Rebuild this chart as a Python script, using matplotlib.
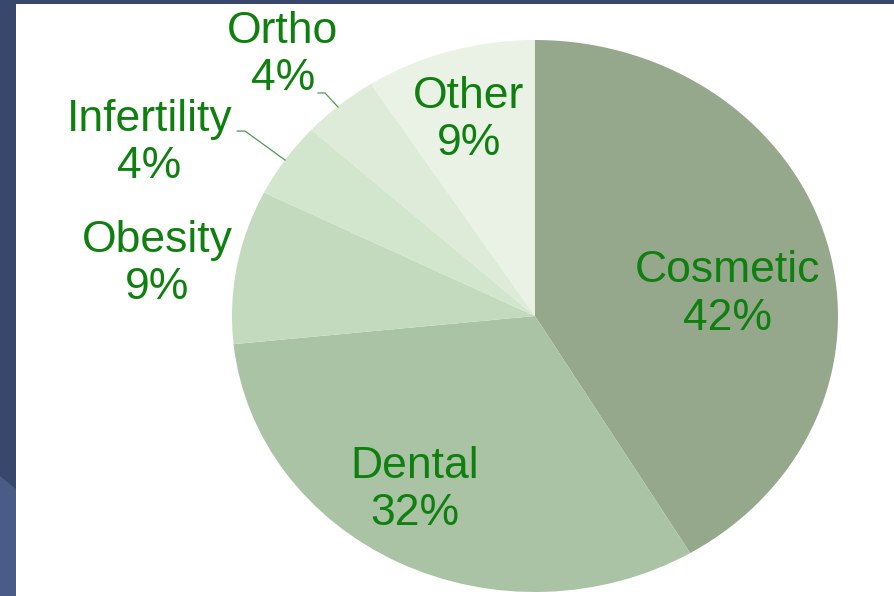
import matplotlib.pyplot as plt
from matplotlib.patches import Rectangle, Polygon

labels = ['Cosmetic', 'Dental', 'Obesity', 'Infertility', 'Ortho', 'Other']
shown_pct = [42, 32, 9, 4, 4, 9]
# slice sizes as measured from the wedge angles
shares = [41.4, 31.9, 9.0, 4.4, 4.1, 9.1]
colors = ['#95a88b', '#abc3a5', '#c3dabe', '#d1e6cc', '#ddebd8', '#e9f2e5']
txt_green = '#0f800f'

W, H = 895, 596
fig = plt.figure(figsize=(W / 100, H / 100), dpi=100)
fig.patch.set_facecolor('#38476c')

# lighter slide background at the bottom left
fig.patches.append(Polygon([(0, 0), (16 / W, 0), (16 / W, (H - 489) / H), (0, (H - 476) / H)],
                           closed=True, transform=fig.transFigure,
                           facecolor='#4b5b88', edgecolor='none', zorder=-2))
# white panel
fig.patches.append(Rectangle((16 / W, 0), (894 - 16) / W, (H - 4) / H,
                             transform=fig.transFigure, facecolor='white',
                             edgecolor='none', zorder=-2))

# pie box in pixels: x 232..838, y 40..592 (top-based)
ax = fig.add_axes([232 / W, (H - 592) / H, (838 - 232) / W, (592 - 40) / H])
ax.pie(shares, colors=colors, startangle=90, counterclock=False,
       wedgeprops=dict(linewidth=0))
ax.set_aspect('auto')
ax.set_xlim(-1, 1)
ax.set_ylim(-1, 1)
ax.patch.set_visible(False)

label_pos = [(0.634, 0.078), (-0.396, -0.630), (-1.248, 0.188),
             (-1.272, 0.627), (-0.832, 0.946), (-0.218, 0.710)]
for name, pct, (x, y) in zip(labels, shown_pct, label_pos):
    ax.text(x, y, f'{name}\n{pct}%', ha='center', va='center', fontsize=32,
            color=txt_green, family='Liberation Sans', linespacing=1.2,
            clip_on=False)

# leader lines for the small slices
ax.plot([-0.983, -0.957, -0.825], [0.670, 0.670, 0.565], color='#4f9a4f',
        lw=0.9, clip_on=False)
ax.plot([-0.716, -0.693, -0.650], [0.808, 0.808, 0.757], color='#4f9a4f',
        lw=0.9, clip_on=False)

fig.savefig('out.png', dpi=100, facecolor=fig.get_facecolor())
